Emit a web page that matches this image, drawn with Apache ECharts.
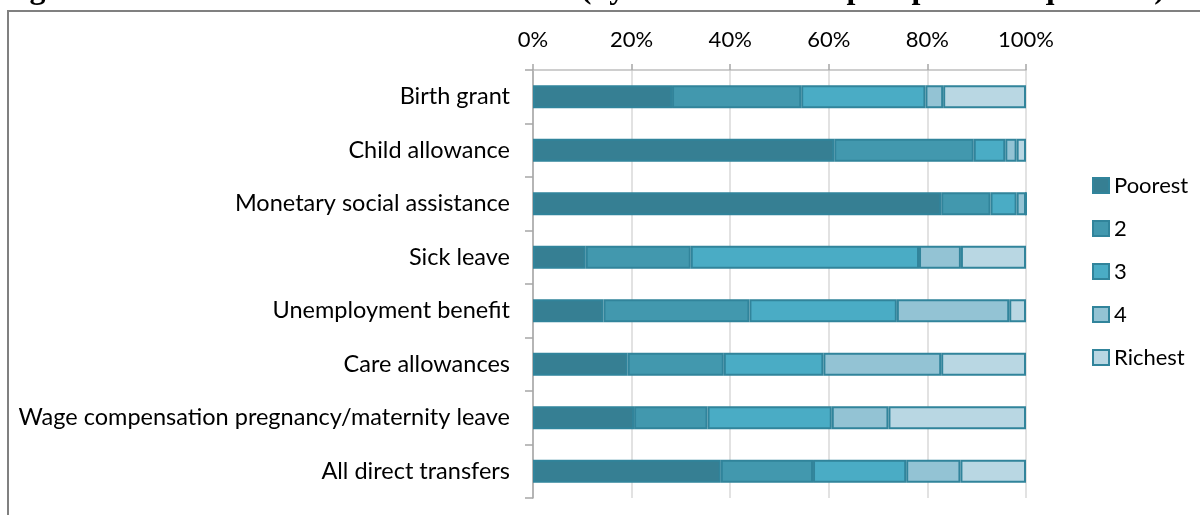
<!DOCTYPE html>
<html>
<head>
<meta charset="utf-8">
<script src="https://cdn.jsdelivr.net/npm/echarts@6/dist/echarts.min.js"></script>
<style>
  html, body { margin: 0; padding: 0; background: #fff; }
  #chart { width: 1200px; height: 515px; }
</style>
</head>
<body>
<div id="chart"></div>
<script>
// 类别与各五分位份额 (%)
var categories = [
    'Birth grant',
    'Child allowance',
    'Monetary social assistance',
    'Sick leave',
    'Unemployment benefit',
    'Care allowances',
    'Wage compensation pregnancy/maternity leave',
    'All direct transfers'
];
var seriesNames = ['Poorest', '2', '3', '4', 'Richest'];
var poorest = [28.2, 61.1, 82.8, 10.7, 14.3, 19.2, 20.5, 38.1];
var q2      = [26.2, 28.3, 10.0, 21.3, 29.6, 19.5, 14.9, 18.7];
var q3      = [25.2,  6.4,  5.3, 46.3, 29.9, 20.2, 25.2, 18.9];
var q4      = [ 3.6,  2.3,  1.9,  8.5, 22.8, 23.9, 11.5, 11.0];
var richest = [16.8,  1.9,  0.0, 13.2,  3.4, 17.2, 27.9, 13.3];
var xTicks = [0, 20, 40, 60, 80, 100];

var colors = ['#367f93', '#4298ae', '#4aacc5', '#93c3d4', '#b9d7e3'];
var labelFont = 'Lato';

function makeSeries(name, data, i) {
    return {
        name: name,
        type: 'bar',
        stack: 'total',
        barWidth: 23,
        data: data,
        itemStyle: {
            color: colors[i],
            borderColor: '#31849b',
            borderWidth: 2
        }
    };
}

var allData = [poorest, q2, q3, q4, richest];
var series = [];
for (var i = 0; i < seriesNames.length; i++) {
    series.push(makeSeries(seriesNames[i], allData[i], i));
}

var myChart = echarts.init(document.getElementById('chart'), null, { renderer: 'canvas' });

var option = {
    animation: false,
    backgroundColor: '#ffffff',
    graphic: [
        // 外框
        {
            type: 'polyline',
            z: 1,
            shape: { points: [[8, 515], [8, 11], [1200, 11]] },
            style: { stroke: '#808080', lineWidth: 2, fill: null }
        },
        // 标题 (上半部分被裁掉)
        {
            type: 'text',
            z: 2,
            x: 1,
            y: -10,
            style: {
                text: 'Figure 5:  Concentration of social benefits (by market income plus pensions quintiles)',
                font: 'bold 32px "Liberation Serif"',
                verticalAlign: 'middle',
                fill: '#000'
            }
        }
    ],
    grid: {
        left: 533,
        right: 174,
        top: 70,
        bottom: 17,
        containLabel: false
    },
    legend: {
        orient: 'vertical',
        left: 1087,
        top: 169,
        itemWidth: 16,
        itemHeight: 15,
        itemGap: 20,
        icon: 'rect',
        data: seriesNames,
        textStyle: {
            fontFamily: labelFont,
            fontSize: 22,
            lineHeight: 23,
            color: '#000'
        }
    },
    xAxis: {
        type: 'value',
        position: 'top',
        min: 0,
        max: 100,
        interval: 20,
        axisLine: { show: true, lineStyle: { color: '#bfbfbf', width: 1.5 } },
        axisTick: { show: true, length: 6, lineStyle: { color: '#a6a6a6', width: 1.5 } },
        axisLabel: {
            formatter: function (v) { return xTicks.indexOf(v) >= 0 ? v + '%' : ''; },
            fontFamily: labelFont,
            fontSize: 22,
            color: '#000',
            margin: 19
        },
        splitLine: { show: true, lineStyle: { color: '#d9d9d9', width: 1.5 } }
    },
    yAxis: {
        type: 'category',
        inverse: true,
        data: categories,
        axisLine: { show: true, lineStyle: { color: '#a6a6a6', width: 1.5 } },
        axisTick: { show: true, length: 8, lineStyle: { color: '#a6a6a6', width: 1.5 } },
        axisLabel: {
            fontFamily: labelFont,
            fontSize: 23.5,
            color: '#000',
            margin: 23
        }
    },
    series: series
};

myChart.setOption(option);
</script>
</body>
</html>
